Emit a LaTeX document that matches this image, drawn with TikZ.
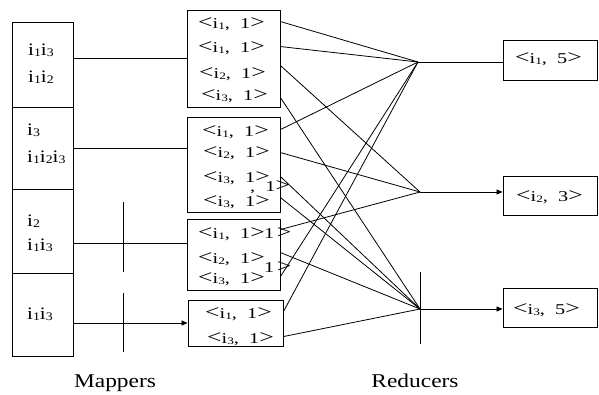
\documentclass[tikz,border=0pt]{standalone}
\usepackage{fontspec}
\setmainfont{Liberation Serif}[FakeStretch=1.2]
\newfontfamily\boxfont{Liberation Serif}[FakeStretch=1.35]
\usetikzlibrary{arrows.meta,calc}
\newcommand{\sbs}[1]{\raisebox{-1.5pt}{\scalebox{0.66}{#1}}}
\newcommand{\lt}{{\fontsize{19}{19}\selectfont<}}
\newcommand{\gt}{{\fontsize{19}{19}\selectfont>}}
\newcommand{\kv}[2]{\lt i\sbs{#1},\ \ #2\gt}
\begin{document}
\begin{tikzpicture}[x=1pt,y=-1pt,
  box/.style={draw, line width=0.9pt, inner sep=0pt},
  mtxt/.style={anchor=base west, inner sep=0pt, font=\fontsize{17.5}{20}\selectfont},
  ktxt/.style={anchor=base west, inner sep=0pt, font=\boxfont\fontsize{15}{17}\selectfont},
  lbl/.style={anchor=base, inner sep=0pt, font=\fontsize{19.5}{22}\selectfont},
  conn/.style={line width=0.8pt},
  arr/.style={line width=0.8pt, -{Triangle[length=6pt,width=5pt]}}]
\useasboundingbox (0,0) rectangle (599,394);

% mappers
\node[box, minimum width=61pt, minimum height=85pt] (m1) at (42.5,64.5) {};
\node[box, minimum width=61pt, minimum height=82pt] (m2) at (42.5,148) {};
\node[box, minimum width=61pt, minimum height=84pt] (m3) at (42.5,231) {};
\node[box, minimum width=61pt, minimum height=83pt] (m4) at (42.5,314.5) {};
\node[mtxt] (m1a) at (28,55) {i\sbs{1}i\sbs{3}};
\node[mtxt] (m1b) at (28,82) {i\sbs{1}i\sbs{2}};
\node[mtxt] (m2a) at (27,135) {i\sbs{3}};
\node[mtxt] (m2b) at (27,162) {i\sbs{1}i\sbs{2}i\sbs{3}};
\node[mtxt] (m3a) at (27,226) {i\sbs{2}};
\node[mtxt] (m3b) at (27,250) {i\sbs{1}i\sbs{3}};
\node[mtxt] (m4a) at (27,319) {i\sbs{1}i\sbs{3}};

% intermediate boxes
\node[box, minimum width=93pt, minimum height=97pt] (b1) at (233.5,58.5) {};
\node[box, minimum width=93pt, minimum height=95pt] (b2) at (233.5,164.5) {};
\node[box, minimum width=93pt, minimum height=71pt] (b3) at (233.5,254.5) {};
\node[box, minimum width=95pt, minimum height=46pt] (b4) at (235.5,323) {};

\node[ktxt] (k11) at (198,28) {\kv{1}{1}};
\node[ktxt] (k12) at (198,52) {\kv{1}{1}};
\node[ktxt] (k13) at (199,78) {\kv{2}{1}};
\node[ktxt] (k14) at (201,100) {\kv{3}{1}};
\node[ktxt] (k21) at (202,136) {\kv{1}{1}};
\node[ktxt] (k22) at (203,157) {\kv{2}{1}};
\node[ktxt] (k23) at (203,182) {\kv{3}{1}};
\node[ktxt] (k24) at (203,206) {\kv{3}{1}};
\node[ktxt] (k2x) at (250,191) {,\ \ 1\gt};
\node[ktxt] (k31) at (198,238) {\kv{1}{1}};
\node[ktxt] (k3x) at (264,238) {1\,\gt};
\node[ktxt] (k32) at (198,263) {\kv{2}{1}};
\node[ktxt] (k3y) at (264,272) {1\,\gt};
\node[ktxt] (k33) at (198,283) {\kv{3}{1}};
\node[ktxt] (k41) at (205,318) {\kv{1}{1}};
\node[ktxt] (k42) at (207,343) {\kv{3}{1}};

% output boxes
\node[box, minimum width=94pt, minimum height=40pt] (o1) at (550,60) {};
\node[box, minimum width=94pt, minimum height=39pt] (o2) at (550,195.5) {};
\node[box, minimum width=94pt, minimum height=39pt] (o3) at (550,307.5) {};
\node[ktxt] (t1) at (515,63) {\kv{1}{5}};
\node[ktxt] (t2) at (516,201) {\kv{2}{3}};
\node[ktxt] (t3) at (513,314) {\kv{3}{5}};

% labels
\node[lbl] (lm) at (115,387) {Mappers};
\node[lbl] (lr) at (415,387) {Reducers};

% reducer points
\coordinate (r1) at (418,62);
\coordinate (r2) at (420,192);
\coordinate (r3) at (420,309);

% ports
\coordinate (p11) at ($(b1.north east)+(0,12)$);
\coordinate (p12) at ($(b1.north east)+(0,37)$);
\coordinate (p13) at ($(b1.north east)+(0,56)$);
\coordinate (p14) at ($(b1.north east)+(0,88)$);
\coordinate (p21) at ($(b2.north east)+(0,13)$);
\coordinate (p22) at ($(b2.north east)+(0,36)$);
\coordinate (p23) at ($(b2.north east)+(0,60)$);
\coordinate (p24) at ($(b2.north east)+(0,81)$);
\coordinate (p31) at ($(b3.north east)+(0,11)$);
\coordinate (p32) at ($(b3.north east)+(0,34)$);
\coordinate (p33) at ($(b3.north east)+(0,58)$);
\coordinate (p41) at ($(b4.north east)+(0,12)$);
\coordinate (p42) at ($(b4.north east)+(0,37)$);

% mapper -> boxes
\draw[conn] (m1.east |- b1.west) -- (b1.west);
\draw[conn] (m2.east) -- (m2.east -| b2.west);
\draw[conn] ($(m3.east)+(0,12)$) -- ($(m3.east -| b3.west)+(0,12)$);
\draw[arr] (m4.east |- b4.west) -- (b4.west);
\draw[conn] (123,202) -- (123,272);
\draw[conn] (123,293) -- (123,352);

% shuffle
\foreach \p in {p11,p12,p21,p33,p41} \draw[conn] (\p) -- (r1);
\foreach \p in {p13,p22,p31} \draw[conn] (\p) -- (r2);
\foreach \p in {p14,p23,p24,p32,p42} \draw[conn] (\p) -- (r3);
\draw[conn] ($(r3)+(0,-37)$) -- ($(r3)+(0,35)$);

% reducers -> outputs
\draw[conn] (r1) -- (r1 -| o1.west);
\draw[arr] (r2) -- (r2 -| o2.west);
\draw[arr] (r3) -- (r3 -| o3.west);
\end{tikzpicture}
\end{document}
